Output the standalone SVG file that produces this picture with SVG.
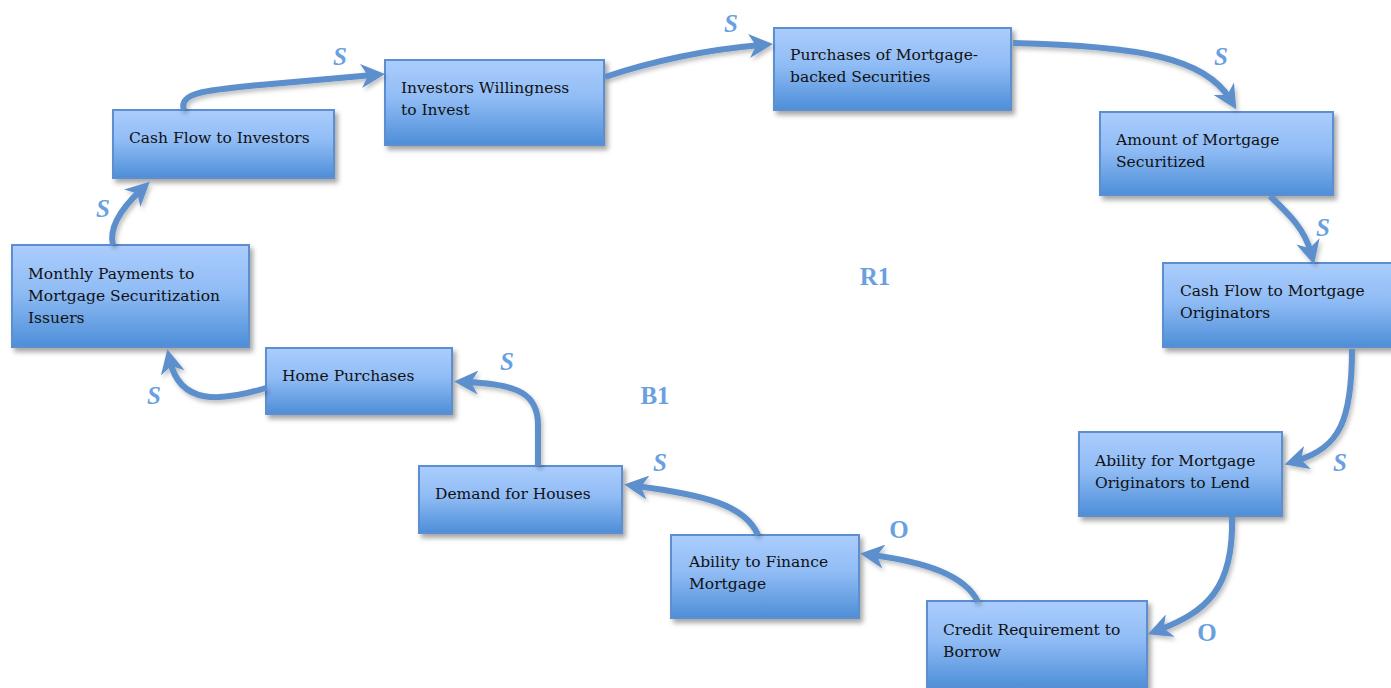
<svg xmlns="http://www.w3.org/2000/svg" width="1391" height="688" viewBox="0 0 1391 688">
<defs>
<linearGradient id="g" x1="0" y1="0" x2="0" y2="1">
<stop offset="0" stop-color="#abcdfd"/>
<stop offset="0.45" stop-color="#90bcf5"/>
<stop offset="1" stop-color="#4d8ed8"/>
</linearGradient>
<filter id="sh" x="-10%" y="-10%" width="125%" height="130%">
<feDropShadow dx="3" dy="4" stdDeviation="2.5" flood-color="#000" flood-opacity="0.35"/>
</filter>
<filter id="ash" x="-10%" y="-10%" width="125%" height="130%">
<feDropShadow dx="2" dy="3" stdDeviation="2" flood-color="#000" flood-opacity="0.25"/>
</filter>
<marker id="ah" viewBox="0 0 24 24" refX="12" refY="12" markerWidth="24" markerHeight="24" markerUnits="userSpaceOnUse" orient="auto">
<path d="M0,0 L24,12 L0,24 L7,12 Z" fill="#5b8fcc"/>
</marker>
</defs>
<style>
.box rect{fill:url(#g);stroke:#5b8ed0;stroke-width:2;filter:url(#sh)}
.box text{font-family:"DejaVu Serif","Liberation Serif",serif;font-size:15.5px;fill:#111}
.c path{fill:none;stroke:#5b8fcc;stroke-width:6;marker-end:url(#ah)}
.lab{font-family:"Liberation Serif","DejaVu Serif",serif;font-size:25px;font-weight:bold;font-style:italic;fill:#6a9fe0;text-anchor:middle}
.lo{font-style:normal}
</style>
<g id="n1" class="box"><rect x="113" y="110" width="221" height="68"/><text x="129" y="143">Cash Flow to Investors</text></g>
<g id="n2" class="box"><rect x="385" y="60" width="219" height="85"/><text x="401" y="93">Investors Willingness</text><text x="401" y="115">to Invest</text></g>
<g id="n3" class="box"><rect x="774" y="28" width="237" height="82"/><text x="790" y="60">Purchases of Mortgage-</text><text x="790" y="82">backed Securities</text></g>
<g id="n4" class="box"><rect x="1100" y="112" width="233" height="83"/><text x="1116" y="145">Amount of Mortgage</text><text x="1116" y="167">Securitized</text></g>
<g id="n5" class="box"><rect x="1163" y="263" width="230" height="84"/><text x="1180" y="296">Cash Flow to Mortgage</text><text x="1180" y="318">Originators</text></g>
<g id="n6" class="box"><rect x="1079" y="432" width="203" height="84"/><text x="1095" y="466">Ability for Mortgage</text><text x="1095" y="488">Originators to Lend</text></g>
<g id="n7" class="box"><rect x="927" y="601" width="220" height="87"/><text x="943" y="635">Credit Requirement to</text><text x="943" y="657">Borrow</text></g>
<g id="n8" class="box"><rect x="671" y="535" width="188" height="83"/><text x="689" y="567">Ability to Finance</text><text x="689" y="589">Mortgage</text></g>
<g id="n9" class="box"><rect x="419" y="466" width="203" height="67"/><text x="435" y="499">Demand for Houses</text></g>
<g id="n10" class="box"><rect x="266" y="348" width="186" height="66"/><text x="282" y="381">Home Purchases</text></g>
<g id="n11" class="box"><rect x="12" y="245" width="237" height="102"/><text x="28" y="279">Monthly Payments to</text><text x="28" y="301">Mortgage Securitization</text><text x="28" y="323">Issuers</text></g>
<g id="connectors" class="c" filter="url(#ash)">
<path d="M184,110 C178,92 210,90 260,85 L373,75"/>
<path d="M605,77 Q680,52 761,45"/>
<path d="M1013,43 C1140,46 1205,58 1230,99"/>
<path d="M1270,196 C1290,215 1305,230 1311,253"/>
<path d="M1352,349 C1352,420 1340,448 1296,461"/>
<path d="M1232,517 C1234,590 1205,612 1159,630"/>
<path d="M978,602 C965,575 925,562 872,555"/>
<path d="M758,535 C745,505 705,495 636,486"/>
<path d="M538,466 L538,425 C538,395 520,384 466,382"/>
<path d="M266,388 C220,402 180,405 170,361"/>
<path d="M113,245 C108,225 125,205 141,190"/>
</g>
<g id="labels">
<text class="lab" x="340" y="65">S</text>
<text class="lab" x="731" y="32">S</text>
<text class="lab" x="1221" y="65">S</text>
<text class="lab" x="1323" y="236">S</text>
<text class="lab" x="1340" y="471">S</text>
<text class="lab lo" x="1207" y="641">O</text>
<text class="lab lo" x="899" y="538">O</text>
<text class="lab" x="660" y="471">S</text>
<text class="lab" x="507" y="370">S</text>
<text class="lab" x="154" y="404">S</text>
<text class="lab" x="103" y="217">S</text>
<text class="lab lo" x="875" y="285">R1</text>
<text class="lab lo" x="655" y="404">B1</text>
</g>
</svg>
